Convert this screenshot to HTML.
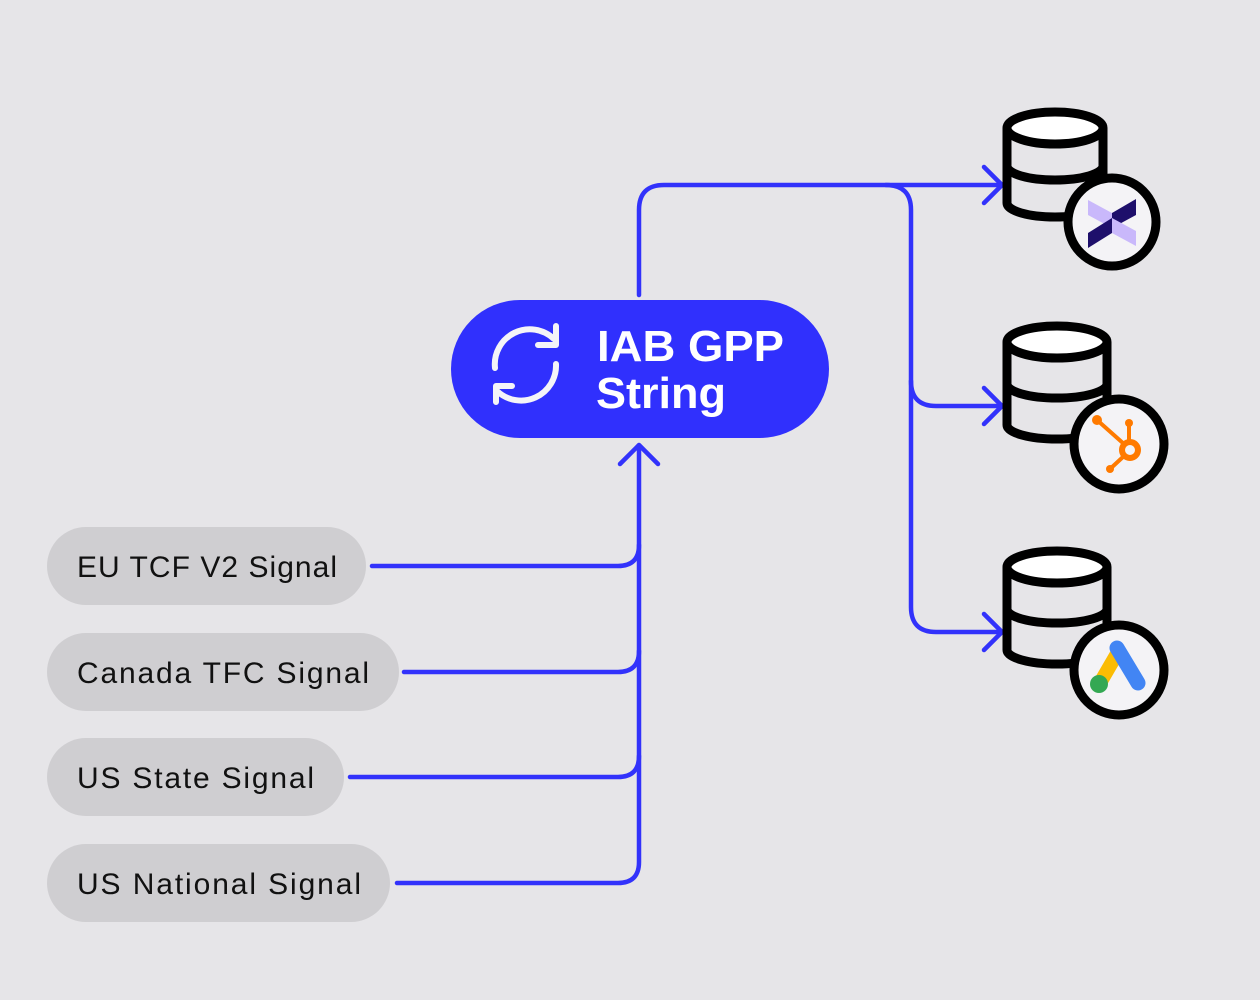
<!DOCTYPE html>
<html><head><style>
html,body{margin:0;padding:0;background:#e6e5e8;}
svg{display:block}
text{font-family:"Liberation Sans",sans-serif;}
</style></head><body>
<svg width="1260" height="1000" viewBox="0 0 1260 1000">
<rect width="1260" height="1000" fill="#e6e5e8"/>
<g fill="#cfced1">
<rect x="47" y="527" width="319" height="78" rx="39"/>
<rect x="47" y="633" width="352" height="78" rx="39"/>
<rect x="47" y="738" width="297" height="78" rx="39"/>
<rect x="47" y="844" width="343" height="78" rx="39"/>
</g>
<g font-size="30" fill="#111" lengthAdjust="spacing">
<text x="77" y="577" textLength="260" lengthAdjust="spacing">EU TCF V2 Signal</text>
<text x="77" y="683" textLength="292" lengthAdjust="spacing">Canada TFC Signal</text>
<text x="77" y="788" textLength="237" lengthAdjust="spacing">US State Signal</text>
<text x="77" y="894" textLength="284" lengthAdjust="spacing">US National Signal</text>
</g>
<g fill="none" stroke="#3232fb" stroke-width="4.5" stroke-linecap="round" stroke-linejoin="round">
<path d="M372 566 H618 Q639 566 639 545"/>
<path d="M404 672 H618 Q639 672 639 651"/>
<path d="M350 777 H618 Q639 777 639 756"/>
<path d="M397 883 H618 Q639 883 639 862 V450"/>
<path d="M620 464 L639 445 L658 464"/>
<path d="M639 295 V210 Q639 185 664 185 H1000"/>
<path d="M886 185 Q911 185 911 210 V607 Q911 632 936 632 H1000"/>
<path d="M911 381 Q911 406 936 406 H1000"/>
<path d="M984 167 L1002 185 L984 203"/>
<path d="M984 388 L1002 406 L984 424"/>
<path d="M984 614 L1002 632 L984 650"/>
</g>
<rect x="451" y="300" width="378" height="138" rx="69" fill="#3030fd"/>
<g fill="none" stroke="#f4f4f8" stroke-width="6" stroke-linecap="round">
<path d="M495 368 A35 35 0 0 1 554 339"/>
<path d="M556 364 A35 35 0 0 1 497 391"/>
</g>
<path d="M556 326 V345 H538" fill="none" stroke="#f4f4f8" stroke-width="6" stroke-linecap="round" stroke-linejoin="round"/>
<path d="M496 402 V386 H512" fill="none" stroke="#f4f4f8" stroke-width="6" stroke-linecap="round" stroke-linejoin="round"/>
<text x="597" y="361" font-size="44" font-weight="bold" fill="#fff" textLength="187" lengthAdjust="spacingAndGlyphs">IAB GPP</text>
<text x="596" y="408" font-size="44" font-weight="bold" fill="#fff" textLength="130" lengthAdjust="spacingAndGlyphs">String</text>
<g fill="none" stroke="#000" stroke-width="9">
<g>
<path d="M1007 128 V203 A48 14 0 0 0 1103 203 V128" fill="#e6e5e8"/>
<ellipse cx="1055" cy="128" rx="48" ry="16" fill="#fff"/>
<path d="M1007 166 A48 14 0 0 0 1103 166"/>
</g>
<g>
<path d="M1007 342 V425 A50 14 0 0 0 1107 425 V342" fill="#e6e5e8"/>
<ellipse cx="1057" cy="342" rx="50" ry="16" fill="#fff"/>
<path d="M1007 384 A50 14 0 0 0 1107 384"/>
</g>
<g>
<path d="M1007 567 V650 A50 14 0 0 0 1107 650 V567" fill="#e6e5e8"/>
<ellipse cx="1057" cy="567" rx="50" ry="16" fill="#fff"/>
<path d="M1007 609 A50 14 0 0 0 1107 609"/>
</g>
<circle cx="1112" cy="222" r="44" fill="#f4f3f6"/>
<circle cx="1119" cy="444" r="45" fill="#f4f3f6"/>
<circle cx="1119" cy="670" r="45" fill="#f4f3f6"/>
</g>
<polygon points="1088,200 1112,213 1112,228 1088,215" fill="#c9b8fb"/>
<polygon points="1112,213 1136,199 1136,215 1112,228" fill="#1e0f6b"/>
<polygon points="1088,233 1112,218 1112,233 1088,248" fill="#1e0f6b"/>
<polygon points="1112,218 1136,231 1136,246 1112,233" fill="#c9b8fb"/>
<g stroke="#ff7a00" fill="none" stroke-width="4">
<circle cx="1130" cy="450" r="8" stroke-width="6"/>
<path d="M1097 420 L1124 444 M1129 424 V442 M1110 469 L1124 456"/>
</g>
<g fill="#ff7a00"><circle cx="1097" cy="420" r="5"/><circle cx="1129" cy="423" r="4"/><circle cx="1110" cy="469" r="4"/></g>
<path d="M1100 683 L1118 652" stroke="#fbbc04" stroke-width="14" stroke-linecap="round"/>
<path d="M1117 648 L1138 683" stroke="#4285f4" stroke-width="15" stroke-linecap="round"/>
<circle cx="1099" cy="684" r="9" fill="#34a853"/>
</svg>
</body></html>
